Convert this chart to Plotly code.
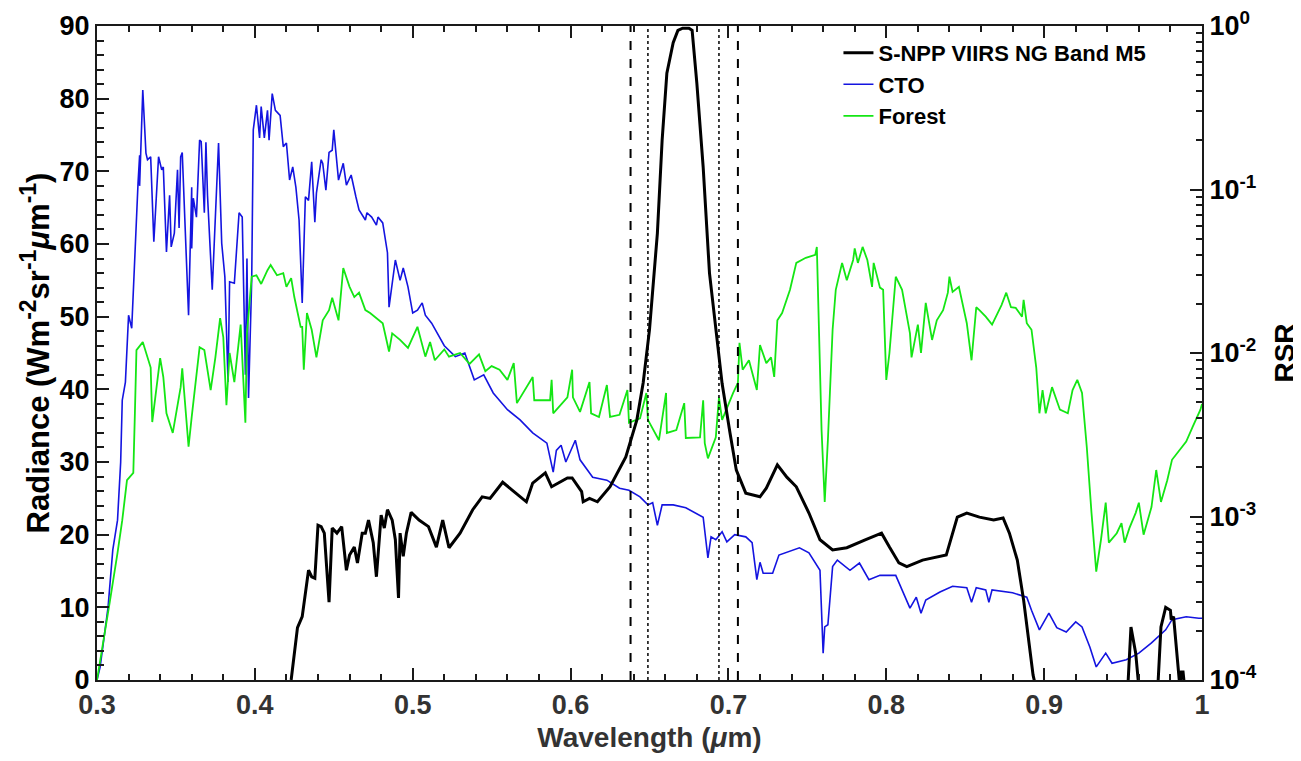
import plotly.graph_objects as go

# ---------------- data ----------------
cto_wl = [0.300, 0.302, 0.307, 0.310, 0.313, 0.315, 0.316, 0.318, 0.320, 0.322, 0.326, 0.327, 0.327, 0.329,
          0.331, 0.332, 0.334, 0.336, 0.339, 0.341, 0.342, 0.344, 0.346, 0.347, 0.349, 0.351, 0.352, 0.353,
          0.354, 0.358, 0.360, 0.360, 0.361, 0.363, 0.365, 0.366, 0.368, 0.369, 0.370, 0.373, 0.377, 0.379,
          0.381, 0.383, 0.384, 0.387, 0.390, 0.392, 0.394, 0.395, 0.396, 0.398, 0.399, 0.401, 0.403, 0.404,
          0.406, 0.408, 0.409, 0.411, 0.413, 0.416, 0.418, 0.420, 0.422, 0.424, 0.426, 0.428, 0.430, 0.432,
          0.434, 0.436, 0.438, 0.439, 0.442, 0.443, 0.445, 0.447, 0.449, 0.450, 0.453, 0.456, 0.458, 0.461,
          0.464, 0.466, 0.470, 0.471, 0.474, 0.477, 0.478, 0.481, 0.484, 0.485, 0.489, 0.492, 0.494, 0.497,
          0.500, 0.503, 0.506, 0.508, 0.512, 0.520, 0.527, 0.533, 0.539, 0.545, 0.551, 0.560, 0.568, 0.576,
          0.585, 0.589, 0.591, 0.594, 0.597, 0.603, 0.606, 0.614, 0.623, 0.631, 0.637, 0.644, 0.649, 0.652,
          0.655, 0.658, 0.665, 0.673, 0.684, 0.687, 0.689, 0.692, 0.696, 0.699, 0.704, 0.711, 0.715, 0.718,
          0.720, 0.722, 0.728, 0.732, 0.745, 0.751, 0.758, 0.760, 0.761, 0.763, 0.766, 0.769, 0.777, 0.783,
          0.789, 0.796, 0.806, 0.810, 0.815, 0.819, 0.822, 0.825, 0.834, 0.842, 0.851, 0.854, 0.857, 0.863,
          0.865, 0.867, 0.880, 0.889, 0.892, 0.897, 0.903, 0.908, 0.914, 0.920, 0.924, 0.929, 0.933, 0.939,
          0.943, 0.952, 0.960, 0.968, 0.977, 0.981, 0.990, 0.998, 1.000]
cto_rad = [0.0, 1.8, 10.0, 17.9, 22.0, 30.0, 38.5, 41.0, 50.2, 48.4, 68.4, 72.2, 68.0, 81.2,
           72.5, 71.6, 72.0, 60.3, 72.0, 70.2, 70.6, 58.9, 66.7, 59.6, 61.5, 70.2, 62.2, 72.0,
           72.6, 50.2, 67.8, 59.4, 66.3, 63.7, 74.3, 74.1, 64.3, 74.0, 66.7, 53.7, 73.9, 60.1,
           55.5, 41.0, 54.8, 54.6, 64.3, 63.7, 42.0, 58.0, 38.8, 55.0, 75.7, 79.1, 74.6, 78.9,
           74.6, 78.4, 74.3, 80.7, 78.4, 77.7, 73.4, 73.9, 68.8, 70.6, 67.8, 63.3, 51.9, 66.5,
           66.0, 71.3, 63.0, 67.0, 71.6, 71.1, 67.4, 72.6, 72.9, 75.7, 68.8, 71.1, 68.1, 69.5,
           66.5, 64.7, 63.3, 64.3, 63.7, 62.6, 63.7, 62.9, 58.8, 51.3, 57.8, 55.0, 56.7, 54.1,
           50.5, 50.9, 51.9, 50.2, 49.1, 46.0, 44.5, 45.0, 41.3, 42.0, 39.5, 37.2, 35.8, 34.0,
           32.6, 28.6, 31.6, 32.3, 30.0, 33.0, 30.3, 27.9, 27.5, 26.4, 26.1, 25.2, 24.1, 24.4,
           21.3, 24.1, 24.1, 23.7, 22.4, 16.8, 19.7, 19.3, 20.4, 19.0, 20.0, 19.7, 18.9, 13.8,
           16.2, 14.7, 14.7, 17.2, 18.2, 17.5, 15.1, 3.7, 7.3, 7.6, 15.6, 16.5, 15.1, 16.1,
           13.8, 14.4, 14.4, 12.4, 9.9, 11.4, 9.2, 11.0, 12.1, 12.9, 12.7, 10.7, 12.7, 12.4,
           10.7, 12.4, 12.0, 11.4, 9.6, 6.9, 9.2, 7.2, 6.6, 8.0, 7.3, 4.5, 1.8, 3.7,
           2.3, 2.8, 3.7, 5.1, 6.9, 8.3, 8.7, 8.5, 8.5]

forest_wl = [0.300, 0.304, 0.308, 0.313, 0.316, 0.319, 0.323, 0.324, 0.325, 0.329, 0.334, 0.335, 0.338,
             0.340, 0.342, 0.344, 0.348, 0.353, 0.354, 0.358, 0.360, 0.365, 0.368, 0.372, 0.375, 0.378,
             0.380, 0.382, 0.384, 0.387, 0.391, 0.394, 0.395, 0.398, 0.401, 0.404, 0.408, 0.410, 0.414,
             0.418, 0.420, 0.423, 0.425, 0.429, 0.430, 0.431, 0.433, 0.436, 0.439, 0.443, 0.447, 0.449,
             0.453, 0.456, 0.460, 0.463, 0.466, 0.470, 0.473, 0.477, 0.481, 0.485, 0.487, 0.492, 0.497,
             0.503, 0.508, 0.511, 0.514, 0.520, 0.523, 0.530, 0.536, 0.542, 0.546, 0.550, 0.555, 0.560,
             0.564, 0.566, 0.570, 0.576, 0.577, 0.587, 0.588, 0.589, 0.598, 0.601, 0.6015, 0.606, 0.612,
             0.613, 0.618, 0.623, 0.625, 0.631, 0.636, 0.637, 0.644, 0.648, 0.649, 0.656, 0.6605, 0.661,
             0.667, 0.672, 0.673, 0.682, 0.684, 0.685, 0.687, 0.692, 0.694, 0.696, 0.703, 0.706, 0.707,
             0.709, 0.713, 0.718, 0.720, 0.722, 0.724, 0.727, 0.729, 0.731, 0.734, 0.739, 0.743, 0.749,
             0.755, 0.756, 0.759, 0.761, 0.763, 0.766, 0.768, 0.772, 0.775, 0.779, 0.780, 0.782, 0.785,
             0.788, 0.791, 0.792, 0.796, 0.798, 0.800, 0.802, 0.806, 0.810, 0.815, 0.816, 0.820, 0.822,
             0.825, 0.829, 0.832, 0.836, 0.839, 0.840, 0.842, 0.846, 0.851, 0.854, 0.857, 0.859, 0.863,
             0.867, 0.873, 0.876, 0.879, 0.882, 0.886, 0.887, 0.889, 0.892, 0.895, 0.897, 0.899, 0.901,
             0.905, 0.910, 0.915, 0.918, 0.921, 0.924, 0.927, 0.930, 0.933, 0.936, 0.939, 0.941, 0.946,
             0.949, 0.951, 0.954, 0.958, 0.960, 0.963, 0.968, 0.971, 0.974, 0.978, 0.981, 0.985, 0.990,
             0.994, 0.999, 1.000]
forest_rad = [0.0, 5.1, 10.6, 17.5, 22.0, 27.5, 28.5, 36.7, 45.4, 46.5, 43.0, 35.5, 41.0,
              44.3, 41.7, 36.7, 34.0, 40.3, 42.9, 32.1, 36.2, 45.8, 45.4, 39.9, 44.4, 49.8,
              47.2, 37.8, 45.0, 41.0, 48.9, 35.4, 47.7, 55.5, 55.7, 54.5, 56.4, 57.1, 55.7,
              56.0, 54.1, 55.3, 52.7, 48.6, 48.6, 42.7, 50.5, 48.2, 44.4, 49.5, 50.9, 52.6,
              49.5, 56.7, 54.1, 52.7, 53.3, 50.9, 50.5, 49.8, 49.1, 45.2, 47.7, 46.8, 45.7,
              48.6, 44.5, 46.5, 44.0, 45.5, 44.5, 45.0, 43.5, 44.8, 42.5, 43.2, 42.7, 41.3,
              43.6, 38.1, 39.5, 41.7, 38.5, 38.5, 41.3, 36.7, 38.9, 42.7, 38.9, 36.9, 41.0,
              36.7, 36.2, 40.6, 36.2, 36.5, 39.9, 35.4, 36.0, 39.5, 35.8, 33.0, 39.5, 34.0,
              34.4, 38.1, 33.3, 33.4, 38.5, 32.6, 30.5, 33.4, 38.9, 35.8, 39.5, 40.9, 46.4,
              42.7, 44.0, 39.9, 46.1, 44.7, 43.6, 44.4, 41.7, 49.5, 50.5, 53.7, 57.4, 58.1,
              58.5, 59.6, 34.4, 24.5, 33.0, 48.2, 53.7, 57.4, 55.0, 57.8, 59.4, 57.4, 59.6,
              57.8, 54.1, 57.4, 54.0, 53.7, 41.3, 45.0, 55.5, 53.7, 47.7, 44.4, 48.9, 45.0,
              51.9, 46.8, 49.5, 50.9, 53.3, 55.5, 53.4, 54.1, 49.1, 44.0, 51.3, 50.9, 50.0,
              48.9, 51.6, 53.3, 51.3, 51.2, 50.0, 52.3, 49.1, 48.2, 43.0, 36.7, 39.9, 36.7,
              40.3, 37.2, 36.7, 39.9, 41.3, 39.5, 32.1, 23.0, 14.9, 19.3, 24.4, 18.9, 20.2,
              21.6, 18.9, 20.9, 23.0, 24.4, 20.0, 23.8, 28.9, 24.5, 27.5, 30.3, 31.4, 32.8,
              34.8, 37.2, 38.0]

# RSR dips below 1e-4 (off the axis) between the out-of-band bumps
rsr_wl = [0.423, 0.427, 0.430, 0.434, 0.436, 0.438, 0.440, 0.442, 0.444, 0.447, 0.449, 0.452, 0.455,
          0.458, 0.460, 0.463, 0.465, 0.468, 0.470, 0.472, 0.475, 0.477, 0.480, 0.482, 0.484, 0.487,
          0.489, 0.491, 0.492, 0.494, 0.496, 0.499, 0.504, 0.510, 0.515, 0.519, 0.523, 0.530, 0.538,
          0.544, 0.549, 0.557, 0.563, 0.572, 0.576, 0.584, 0.588, 0.598, 0.601, 0.607, 0.608, 0.612,
          0.617, 0.625, 0.635, 0.642, 0.646, 0.650, 0.655, 0.658, 0.661, 0.665, 0.668, 0.671, 0.675,
          0.677, 0.680, 0.684, 0.688, 0.692, 0.696, 0.701, 0.705, 0.711, 0.720, 0.724, 0.731, 0.737,
          0.743, 0.751, 0.758, 0.766, 0.775, 0.787, 0.797, 0.802, 0.808, 0.813, 0.823, 0.838, 0.841,
          0.845, 0.851, 0.859, 0.868, 0.874, 0.878, 0.883, 0.887, 0.890, 0.893, 0.896, 0.920,
          0.953, 0.955, 0.958, 0.960, 0.966,
          0.972, 0.974, 0.977, 0.980, 0.9805, 0.982, 0.984, 0.986, 0.987, 0.988, 0.989]
rsr_val = [1.0e-4, 2.09e-4, 2.44e-4, 4.69e-4, 4.28e-4, 4.19e-4, 8.85e-4, 8.67e-4, 7.91e-4, 2.99e-4, 8.49e-4,
           7.91e-4, 8.67e-4, 4.69e-4, 5.81e-4, 6.50e-4, 5.20e-4, 7.91e-4, 7.91e-4, 9.51e-4, 6.92e-4,
           4.28e-4, 1.02e-3, 8.49e-4, 1.10e-3, 9.51e-4, 7.21e-4, 3.18e-4, 7.91e-4, 5.70e-4, 7.91e-4,
           1.06e-3, 9.51e-4, 8.67e-4, 6.50e-4, 9.51e-4, 6.44e-4, 7.91e-4, 1.10e-3, 1.32e-3, 1.29e-3,
           1.62e-3, 1.45e-3, 1.23e-3, 1.60e-3, 1.85e-3, 1.52e-3, 1.72e-3, 1.72e-3, 1.42e-3, 1.23e-3,
           1.29e-3, 1.23e-3, 1.52e-3, 2.31e-3, 3.90e-3, 6.58e-3, 1.39e-2, 5.41e-2, 0.200, 0.514,
           0.790, 0.940, 0.970, 0.970, 0.940, 0.446, 0.137, 3.08e-2, 1.36e-2, 6.5e-3, 3.24e-3,
           1.92e-3, 1.39e-3, 1.32e-3, 1.49e-3, 2.07e-3, 1.74e-3, 1.52e-3, 1.05e-3, 7.21e-4, 6.25e-4,
           6.44e-4, 7.21e-4, 7.91e-4, 6.50e-4, 5.20e-4, 4.93e-4, 5.41e-4, 5.81e-4, 7.21e-4, 9.91e-4,
           1.05e-3, 9.91e-4, 9.51e-4, 9.80e-4, 7.91e-4, 5.41e-4, 3.08e-4, 1.75e-4, 1.07e-4, 8.0e-5, 5.0e-5,
           9.0e-5, 2.11e-4, 1.46e-4, 9.0e-5, 5.0e-5,
           9.0e-5, 2.11e-4, 2.78e-4, 2.67e-4, 2.34e-4, 2.44e-4, 1.46e-4, 9.0e-5, 1.12e-4, 1.12e-4, 9.0e-5]

dashed_edges = [0.638, 0.706]
dotted_edges = [0.649, 0.694]

y2_ticks = [1e-4, 1e-3, 1e-2, 1e-1, 1e0]
y2_ticktext = ["10<sup>-4</sup>", "10<sup>-3</sup>", "10<sup>-2</sup>", "10<sup>-1</sup>", "10<sup>0</sup>"]
y2_minor = [m * 10 ** e for e in (-4, -3, -2, -1) for m in range(2, 10)]

# ---------------- figure ----------------
# the page body adds an 8 px offset; the figure is sized so the plot area lands at
# x 97..1202, y 26..680 of the 1301x761 window
FONT = "Liberation Sans, Arial, Helvetica, sans-serif"
AX = "#1a1a1a"
SUP = '<sup><span style="font-size:23px">{}</span></sup>'

fig = go.Figure()
fig.add_trace(go.Scatter(x=rsr_wl, y=rsr_val, yaxis="y2", mode="lines",
                         name="S-NPP VIIRS NG Band M5", line=dict(color="black", width=3)))
fig.add_trace(go.Scatter(x=cto_wl, y=cto_rad, mode="lines", name="CTO",
                         line=dict(color="#1414e0", width=1.6)))
fig.add_trace(go.Scatter(x=forest_wl, y=forest_rad, mode="lines", name="Forest",
                         line=dict(color="#14e614", width=1.8)))
# transparent copy of the RSR curve on a helper log axis that carries the minor RSR ticks
fig.add_trace(go.Scatter(x=rsr_wl, y=rsr_val, yaxis="y3", mode="lines", showlegend=False,
                         hoverinfo="skip", line=dict(color="rgba(0,0,0,0)", width=0.5)))

for xv in dashed_edges:
    fig.add_shape(type="line", xref="x", yref="paper", x0=xv, x1=xv, y0=0, y1=1,
                  line=dict(color="black", width=2, dash="dash"))
for xv in dotted_edges:
    fig.add_shape(type="line", xref="x", yref="paper", x0=xv, x1=xv, y0=0, y1=1,
                  line=dict(color="black", width=1.5, dash="dot"))

ytitle = ("Radiance (Wm" + SUP.format("-2") + "sr" + SUP.format("-1")
          + "<i>μ</i>m" + SUP.format("-1") + ")")

fig.update_layout(
    width=1293, height=753,
    margin=dict(l=89, r=99, t=18, b=81, autoexpand=False),
    paper_bgcolor="white", plot_bgcolor="white",
    font=dict(family=FONT, color="black", size=26),
    showlegend=True,
    legend=dict(x=0.671, y=0.991, xanchor="left", yanchor="top",
                bgcolor="rgba(0,0,0,0)", borderwidth=0,
                font=dict(family=FONT, size=22, color="black", weight="bold"),
                traceorder="normal", itemwidth=30),
    xaxis=dict(range=[0.3, 1.0], tickmode="linear", tick0=0.3, dtick=0.1,
               ticks="inside", ticklen=12, tickwidth=2, tickcolor=AX,
               minor=dict(ticks="inside", dtick=0.02, ticklen=6, tickwidth=1.5, tickcolor=AX),
               showline=True, linecolor=AX, linewidth=2, mirror="ticks",
               showgrid=False, zeroline=False, automargin=False,
               tickfont=dict(family=FONT, size=27, color="#333333", weight="bold"),
               title=dict(text="Wavelength (<i>μ</i>m)", standoff=8,
                          font=dict(family=FONT, size=28, color="#333333", weight="bold"))),
    yaxis=dict(range=[0, 90], tickmode="linear", tick0=0, dtick=10,
               ticks="inside", ticklen=12, tickwidth=2, tickcolor=AX,
               minor=dict(ticks="inside", dtick=2, ticklen=7, tickwidth=1.5, tickcolor=AX),
               showline=True, linecolor=AX, linewidth=2,
               showgrid=False, zeroline=False, automargin=False,
               tickfont=dict(family=FONT, size=27, color="black", weight="bold"),
               title=dict(text=ytitle, standoff=1,
                          font=dict(family=FONT, size=31, color="black", weight="bold"))),
    yaxis2=dict(type="log", range=[-4, 0], overlaying="y", side="right",
                tickmode="array", tickvals=y2_ticks, ticktext=y2_ticktext,
                ticklabeloverflow="allow",
                ticks="inside", ticklen=12, tickwidth=2, tickcolor=AX,
                showline=True, linecolor=AX, linewidth=2,
                showgrid=False, zeroline=False, automargin=False,
                tickfont=dict(family=FONT, size=27, color="black", weight="bold"),
                title=dict(text="RSR", standoff=19,
                           font=dict(family=FONT, size=28, color="black", weight="bold"))),
    yaxis3=dict(type="log", range=[-4, 0], overlaying="y", side="right", anchor="x",
                tickmode="array", tickvals=y2_minor, showticklabels=False,
                ticks="inside", ticklen=6, tickwidth=1.5, tickcolor=AX,
                showline=False, showgrid=False, zeroline=False, automargin=False),
)

fig.write_html("out.html")
